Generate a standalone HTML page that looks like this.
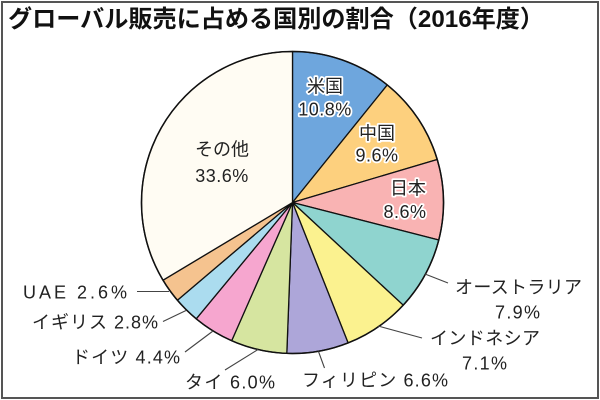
<!DOCTYPE html>
<html><head><meta charset="utf-8"><style>
html,body{margin:0;padding:0;background:#fff;}
svg{display:block;}
text{font-family:"Liberation Sans","Noto Sans CJK JP",sans-serif;fill:#222;}
.t{font-size:24px;font-weight:bold;fill:#111;}
.l{font-size:18px;}
.in{font-size:18px;stroke:#fff;stroke-width:3.5px;paint-order:stroke;stroke-linejoin:round;}
</style></head><body>
<svg width="600" height="400" viewBox="0 0 600 400" xmlns="http://www.w3.org/2000/svg">
<rect x="0" y="0" width="600" height="400" fill="#fff"/>
<rect x="2" y="2" width="596" height="396" fill="none" stroke="#555" stroke-width="2"/>
<text class="t" x="8" y="27" textLength="536" lengthAdjust="spacingAndGlyphs">グローバル販売に占める国別の割合（2016年度）</text>
<g stroke="#111" stroke-width="1.3" stroke-linejoin="round">
<path d="M292.5 202.5 L292.5 51.5 A151 151 0 0 1 387.28 84.95 Z" fill="#6ea6dd"/>
<path d="M292.5 202.5 L387.28 84.95 A151 151 0 0 1 437.23 159.45 Z" fill="#fdd07e"/>
<path d="M292.5 202.5 L437.23 159.45 A151 151 0 0 1 438.76 240.05 Z" fill="#f9b3b3"/>
<path d="M292.5 202.5 L438.76 240.05 A151 151 0 0 1 403.23 305.17 Z" fill="#8fd4cf"/>
<path d="M292.5 202.5 L403.23 305.17 A151 151 0 0 1 348.08 342.90 Z" fill="#fbf28f"/>
<path d="M292.5 202.5 L348.08 342.90 A151 151 0 0 1 286.81 353.39 Z" fill="#ada6d9"/>
<path d="M292.5 202.5 L286.81 353.39 A151 151 0 0 1 231.66 340.71 Z" fill="#d6e5a0"/>
<path d="M292.5 202.5 L231.66 340.71 A151 151 0 0 1 196.25 318.85 Z" fill="#f6a6cf"/>
<path d="M292.5 202.5 L196.25 318.85 A151 151 0 0 1 177.39 300.23 Z" fill="#abdcef"/>
<path d="M292.5 202.5 L177.39 300.23 A151 151 0 0 1 163.02 280.19 Z" fill="#f5c38f"/>
<path d="M292.5 202.5 L163.02 280.19 A151 151 0 0 1 292.5 51.5 Z" fill="#fffcf3"/>
</g>
<circle cx="292.5" cy="202.5" r="151" fill="none" stroke="#111" stroke-width="1.5"/>
<g stroke="#444" stroke-width="1.1" fill="none">
<line x1="137" y1="291.5" x2="169" y2="291.5"/>
<line x1="163" y1="321.5" x2="186" y2="310.5"/>
<line x1="185" y1="352" x2="213" y2="331"/>
<line x1="225" y1="370" x2="258" y2="349.5"/>
<line x1="318.5" y1="351.5" x2="324.5" y2="368"/>
<line x1="378" y1="326" x2="422" y2="338"/>
<line x1="425" y1="274" x2="448" y2="283"/>
</g>
<text class="in" x="325" y="92.5" text-anchor="middle">米国</text>
<text class="in" x="325" y="115.5" text-anchor="middle" letter-spacing="0.5">10.8%</text>
<text class="in" x="377" y="139.5" text-anchor="middle">中国</text>
<text class="in" x="377" y="161.5" text-anchor="middle" letter-spacing="0.5">9.6%</text>
<text class="in" x="408" y="194.5" text-anchor="middle">日本</text>
<text class="in" x="405" y="218" text-anchor="middle" letter-spacing="0.5">8.6%</text>
<text class="l" x="222" y="155.5" text-anchor="middle">その他</text>
<text class="l" x="222" y="182" text-anchor="middle" letter-spacing="0.5">33.6%</text>
<text class="l" x="23" y="298.5" textLength="104" lengthAdjust="spacing">UAE 2.6%</text>
<text class="l" x="32" y="328.5" textLength="126" lengthAdjust="spacing">イギリス 2.8%</text>
<text class="l" x="72" y="363.5" textLength="108" lengthAdjust="spacing">ドイツ 4.4%</text>
<text class="l" x="185" y="388.5" textLength="90" lengthAdjust="spacing">タイ 6.0%</text>
<text class="l" x="302" y="386.5" textLength="146" lengthAdjust="spacing">フィリピン 6.6%</text>
<text class="l" x="455" y="293.5" textLength="127" lengthAdjust="spacing">オーストラリア</text>
<text class="l" x="495" y="318.5" textLength="45" lengthAdjust="spacing">7.9%</text>
<text class="l" x="430" y="344.5" textLength="110" lengthAdjust="spacing">インドネシア</text>
<text class="l" x="462" y="369.5" textLength="45" lengthAdjust="spacing">7.1%</text>
</svg>
</body></html>
